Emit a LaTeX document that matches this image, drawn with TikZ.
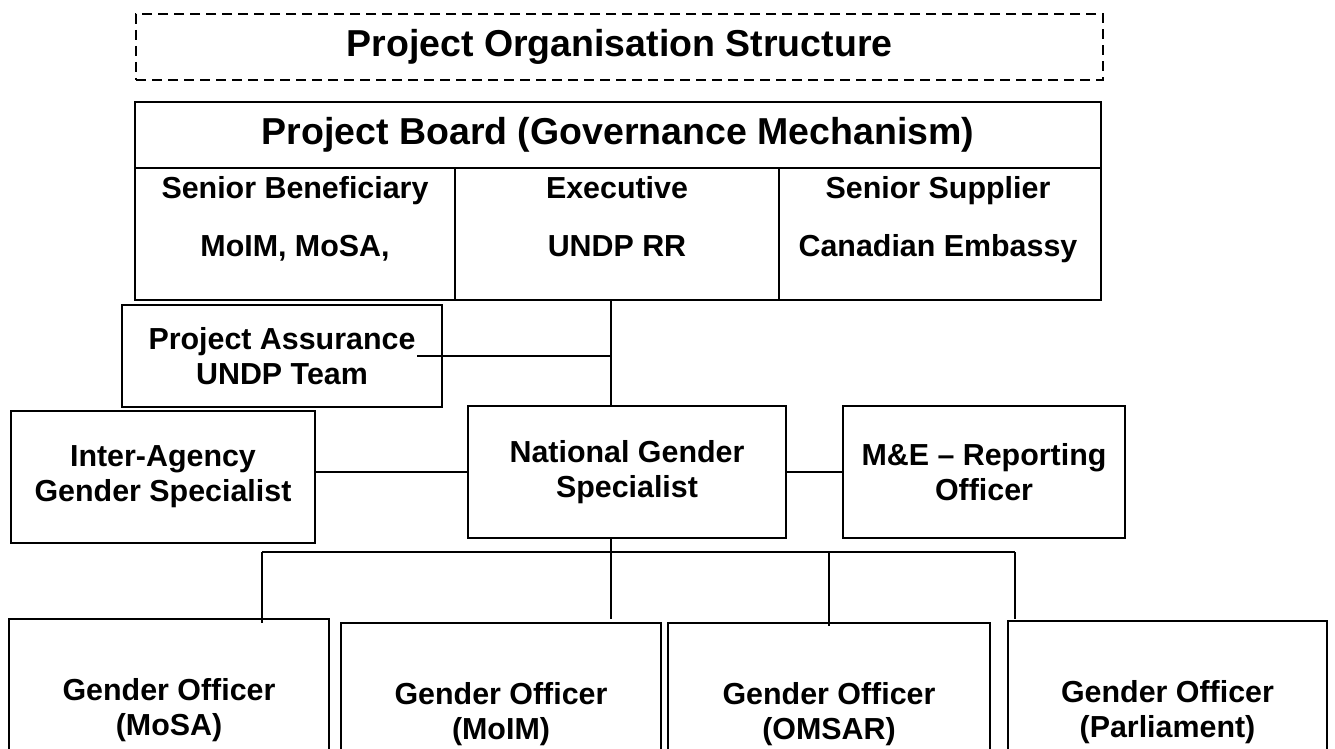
\documentclass[tikz,border=0pt]{standalone}
\usepackage{fontspec}
\setmainfont{Liberation Sans}
\usetikzlibrary{positioning}
\tikzset{
	box/.style={draw,line width=0.9pt,align=center,inner sep=0pt,outer sep=0pt,font=\fontsize{15.2}{17.5}\selectfont\bfseries},
	bigbox/.style={box,font=\fontsize{18.75}{22}\selectfont\bfseries},
	celltext/.style={align=center,inner sep=0pt,anchor=north,font=\fontsize{15.2}{17.5}\selectfont\bfseries},
	link/.style={line width=0.8pt},
}

\begin{document}
\begin{tikzpicture}[x=0.5pt,y=-0.5pt]
	\useasboundingbox (0,0) rectangle (1335,749);
	%% title
	\node[bigbox,dash pattern=on 5pt off 3pt,minimum width=483.5pt,minimum height=33pt] (title) at (619.5,47) {Project Organisation Structure};
	%% board
	\node[bigbox,minimum width=483pt,minimum height=33pt] (board) at (618,135) {Project Board (Governance Mechanism)};
	\node[box,minimum width=160pt,minimum height=66pt,anchor=north west] (benef) at (board.south west) {};
	\node[box,minimum width=162pt,minimum height=66pt,anchor=north west] (exec) at (benef.north east) {};
	\node[box,minimum width=161pt,minimum height=66pt,anchor=north west] (supp) at (exec.north east) {};
	\node[celltext] (benef-t) at (295,176) {Senior Beneficiary\\[11.5pt]MoIM, MoSA,};
	\node[celltext] (exec-t) at (617,176) {Executive\\[11.5pt]UNDP RR};
	\node[celltext] (supp-t) at (938,176) {Senior Supplier\\[11.5pt]Canadian Embassy};
	%% middle
	\node[box,minimum width=160pt,minimum height=51pt] (pa) at (282,356) {Project Assurance\\UNDP Team};
	\node[box,minimum width=152pt,minimum height=66pt] (ia) at (163,477) {Inter-Agency\\Gender Specialist};
	\node[box,minimum width=159pt,minimum height=66pt] (ngs) at (627,472) {National Gender\\Specialist};
	\node[box,minimum width=141pt,minimum height=66pt] (me) at (984,472) {M\&E -- Reporting\\Officer};
	%% gender officers
	\node[box,minimum width=160pt,minimum height=91pt] (mosa) at (169,710) {Gender Officer\\(MoSA)};
	\node[box,minimum width=160pt,minimum height=91pt] (moim) at (501,714) {Gender Officer\\(MoIM)};
	\node[box,minimum width=161pt,minimum height=91pt] (omsar) at (829,714) {Gender Officer\\(OMSAR)};
	\node[box,minimum width=159.5pt,minimum height=91pt] (parl) at (1167.5,712) {Gender Officer\\(Parliament)};
	% lines
	\coordinate (spine) at (611,300);
	\coordinate (busl) at (262,552);
	\coordinate (busr) at (1015,552);
	\draw[link] (spine) -- (spine |- ngs.north);
	\draw[link] ([xshift=-12.5pt]pa.east) -- (pa.east -| spine);
	\draw[link] (ngs.west) -- (ngs.west -| ia.east);
	\draw[link] (ngs.east) -- (me.west);
	\draw[link] (busl) -- (busr);
	\draw[link] (spine |- ngs.south) -- ([yshift=2pt]spine |- moim.north);
	\draw[link] (busl) -- ([yshift=-2pt]busl |- mosa.north);
	\draw[link] (omsar.north |- busl) -- ([yshift=-1.5pt]omsar.north);
	\draw[link] (busr) -- ([yshift=1pt]busr |- parl.north);
\end{tikzpicture}
\end{document}
